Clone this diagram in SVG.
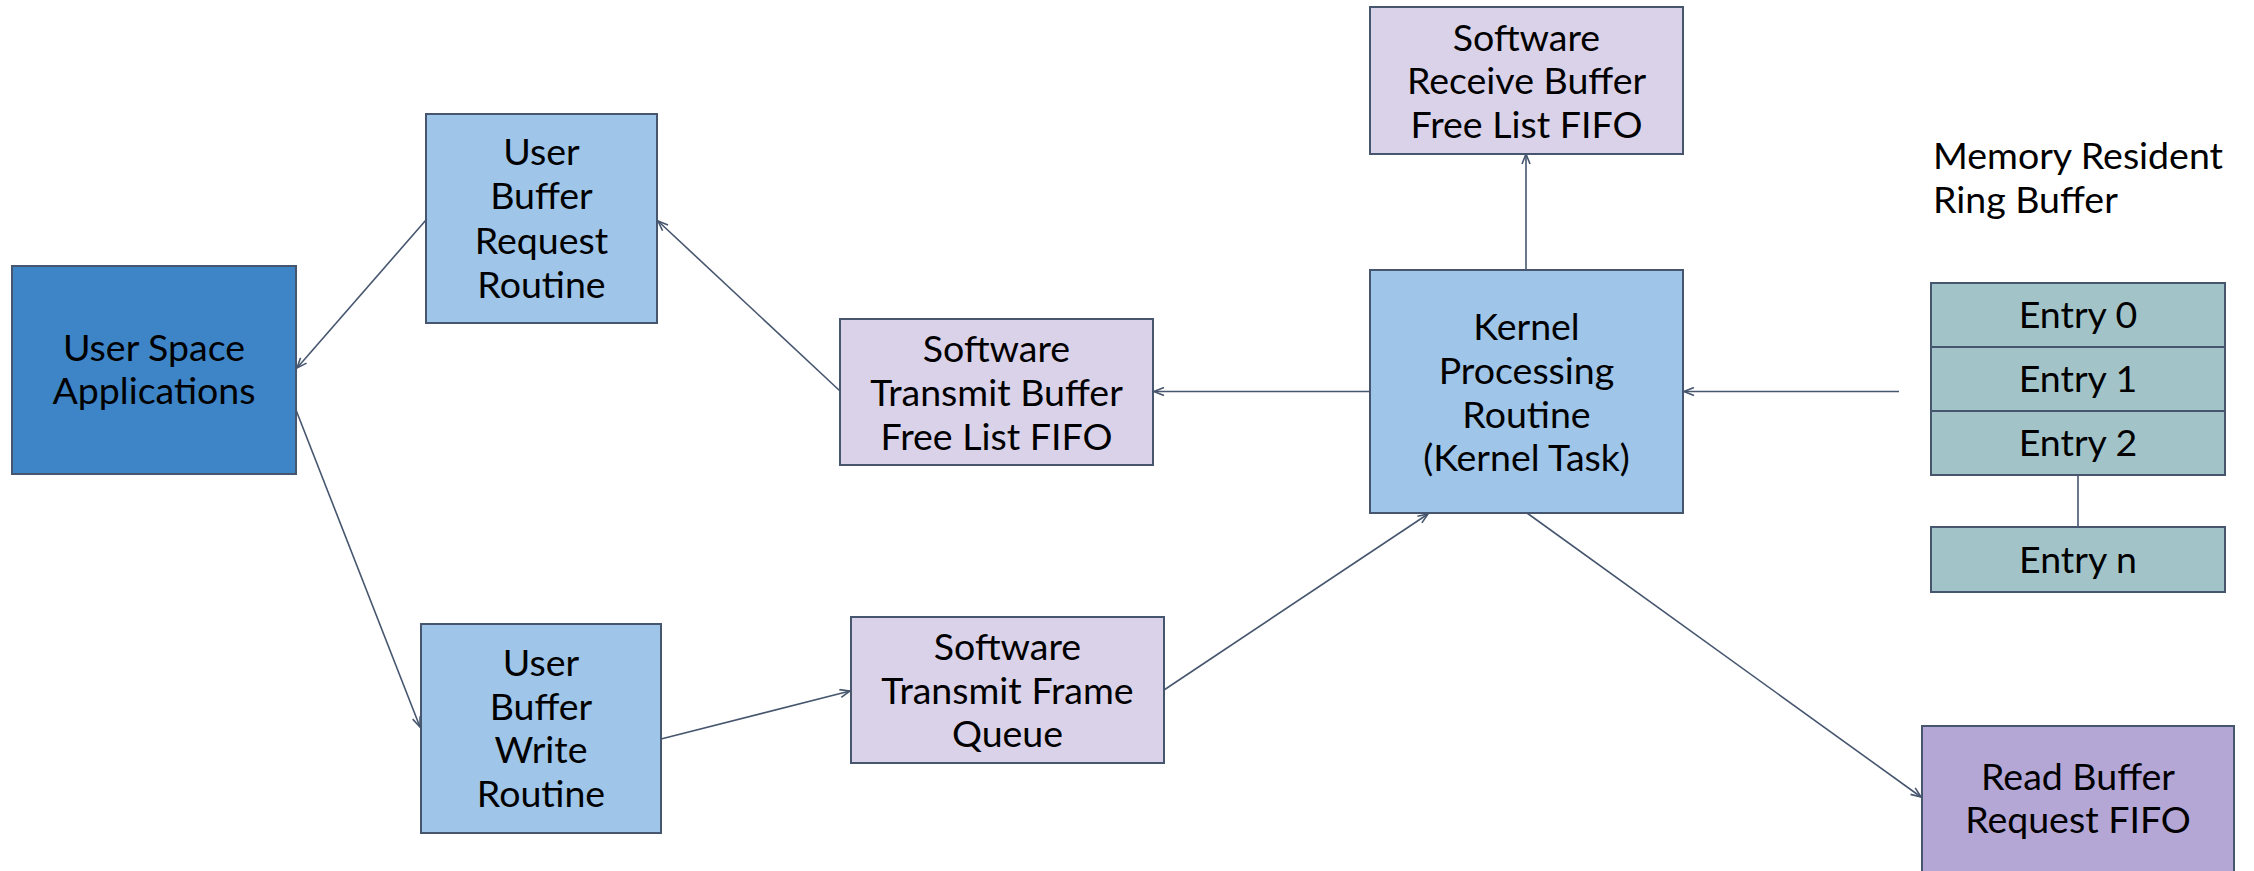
<svg xmlns="http://www.w3.org/2000/svg" width="2254" height="871" viewBox="0 0 2254 871">
<style>
.box{stroke:#46566e;stroke-width:2}
.t{font-family:Lato,"Noto Sans","Liberation Sans",sans-serif;font-size:37.5px;fill:#000;text-anchor:middle}
.tl{font-family:Lato,"Noto Sans","Liberation Sans",sans-serif;font-size:37.5px;fill:#000}
.c{fill:none;stroke:#46566e;stroke-width:1.6}
.blue{fill:#3d85c6}
.lblue{fill:#9fc5e8}
.lav{fill:#d9d2e9}
.pur{fill:#b4a7d6}
.teal{fill:#a2c4c9}
</style>
<defs>
<marker id="arr" viewBox="0 0 12 10" refX="11" refY="5" markerWidth="12" markerHeight="10" markerUnits="userSpaceOnUse" orient="auto">
<path d="M1,1 L11,5 L1,9" fill="none" stroke="#46566e" stroke-width="1.6"/>
</marker>
</defs>
<rect width="2254" height="871" fill="#fff"/>
<g id="connectors">
<line class="c" x1="426" y1="220" x2="297" y2="368" marker-end="url(#arr)"/>
<line class="c" x1="296" y1="410" x2="420" y2="727" marker-end="url(#arr)"/>
<line class="c" x1="840" y1="391" x2="658" y2="221" marker-end="url(#arr)"/>
<line class="c" x1="661" y1="739" x2="850" y2="691" marker-end="url(#arr)"/>
<line class="c" x1="1164" y1="690" x2="1428" y2="514" marker-end="url(#arr)"/>
<line class="c" x1="1370" y1="391.5" x2="1154" y2="391.5" marker-end="url(#arr)"/>
<line class="c" x1="1899" y1="391.5" x2="1684" y2="391.5" marker-end="url(#arr)"/>
<line class="c" x1="1526" y1="270" x2="1526" y2="154" marker-end="url(#arr)"/>
<line class="c" x1="1527" y1="513" x2="1921" y2="797" marker-end="url(#arr)"/>
<line class="c" x1="2078" y1="475" x2="2078" y2="527"/>
</g>
<g id="user-space-applications">
<rect class="box blue" x="12" y="266" width="284" height="208"/>
<text class="t" x="154" y="361">User Space</text>
<text class="t" x="154" y="404">Applications</text>
</g>
<g id="user-buffer-request-routine">
<rect class="box lblue" x="426" y="114" width="231" height="209"/>
<text class="t" x="541.5" y="165">User</text>
<text class="t" x="541.5" y="209">Buffer</text>
<text class="t" x="541.5" y="254">Request</text>
<text class="t" x="541.5" y="298">Routine</text>
</g>
<g id="user-buffer-write-routine">
<rect class="box lblue" x="421" y="624" width="240" height="209"/>
<text class="t" x="541" y="676">User</text>
<text class="t" x="541" y="720">Buffer</text>
<text class="t" x="541" y="763">Write</text>
<text class="t" x="541" y="807">Routine</text>
</g>
<g id="software-transmit-buffer-free-list-fifo">
<rect class="box lav" x="840" y="319" width="313" height="146"/>
<text class="t" x="996.5" y="362">Software</text>
<text class="t" x="996.5" y="406">Transmit Buffer</text>
<text class="t" x="996.5" y="450">Free List FIFO</text>
</g>
<g id="software-transmit-frame-queue">
<rect class="box lav" x="851" y="617" width="313" height="146"/>
<text class="t" x="1007.5" y="660">Software</text>
<text class="t" x="1007.5" y="704">Transmit Frame</text>
<text class="t" x="1007.5" y="747">Queue</text>
</g>
<g id="kernel-processing-routine">
<rect class="box lblue" x="1370" y="270" width="313" height="243"/>
<text class="t" x="1526.5" y="340">Kernel</text>
<text class="t" x="1526.5" y="384">Processing</text>
<text class="t" x="1526.5" y="428">Routine</text>
<text class="t" x="1526.5" y="471">(Kernel Task)</text>
</g>
<g id="software-receive-buffer-free-list-fifo">
<rect class="box lav" x="1370" y="7" width="313" height="147"/>
<text class="t" x="1526.5" y="51">Software</text>
<text class="t" x="1526.5" y="94">Receive Buffer</text>
<text class="t" x="1526.5" y="138">Free List FIFO</text>
</g>
<g id="read-buffer-request-fifo">
<rect class="box pur" x="1922" y="726" width="312" height="150"/>
<text class="t" x="2078" y="790">Read Buffer</text>
<text class="t" x="2078" y="833">Request FIFO</text>
</g>
<g id="memory-resident-ring-buffer">
<text class="tl" x="1933" y="169">Memory Resident</text>
<text class="tl" x="1933" y="213">Ring Buffer</text>
</g>
<g id="entry-0">
<rect class="box teal" x="1931" y="283" width="294" height="64"/>
<text class="t" x="2078" y="328">Entry 0</text>
</g>
<g id="entry-1">
<rect class="box teal" x="1931" y="347" width="294" height="64"/>
<text class="t" x="2078" y="392">Entry 1</text>
</g>
<g id="entry-2">
<rect class="box teal" x="1931" y="411" width="294" height="64"/>
<text class="t" x="2078" y="456">Entry 2</text>
</g>
<g id="entry-n">
<rect class="box teal" x="1931" y="527" width="294" height="65"/>
<text class="t" x="2078" y="573">Entry n</text>
</g>
</svg>
